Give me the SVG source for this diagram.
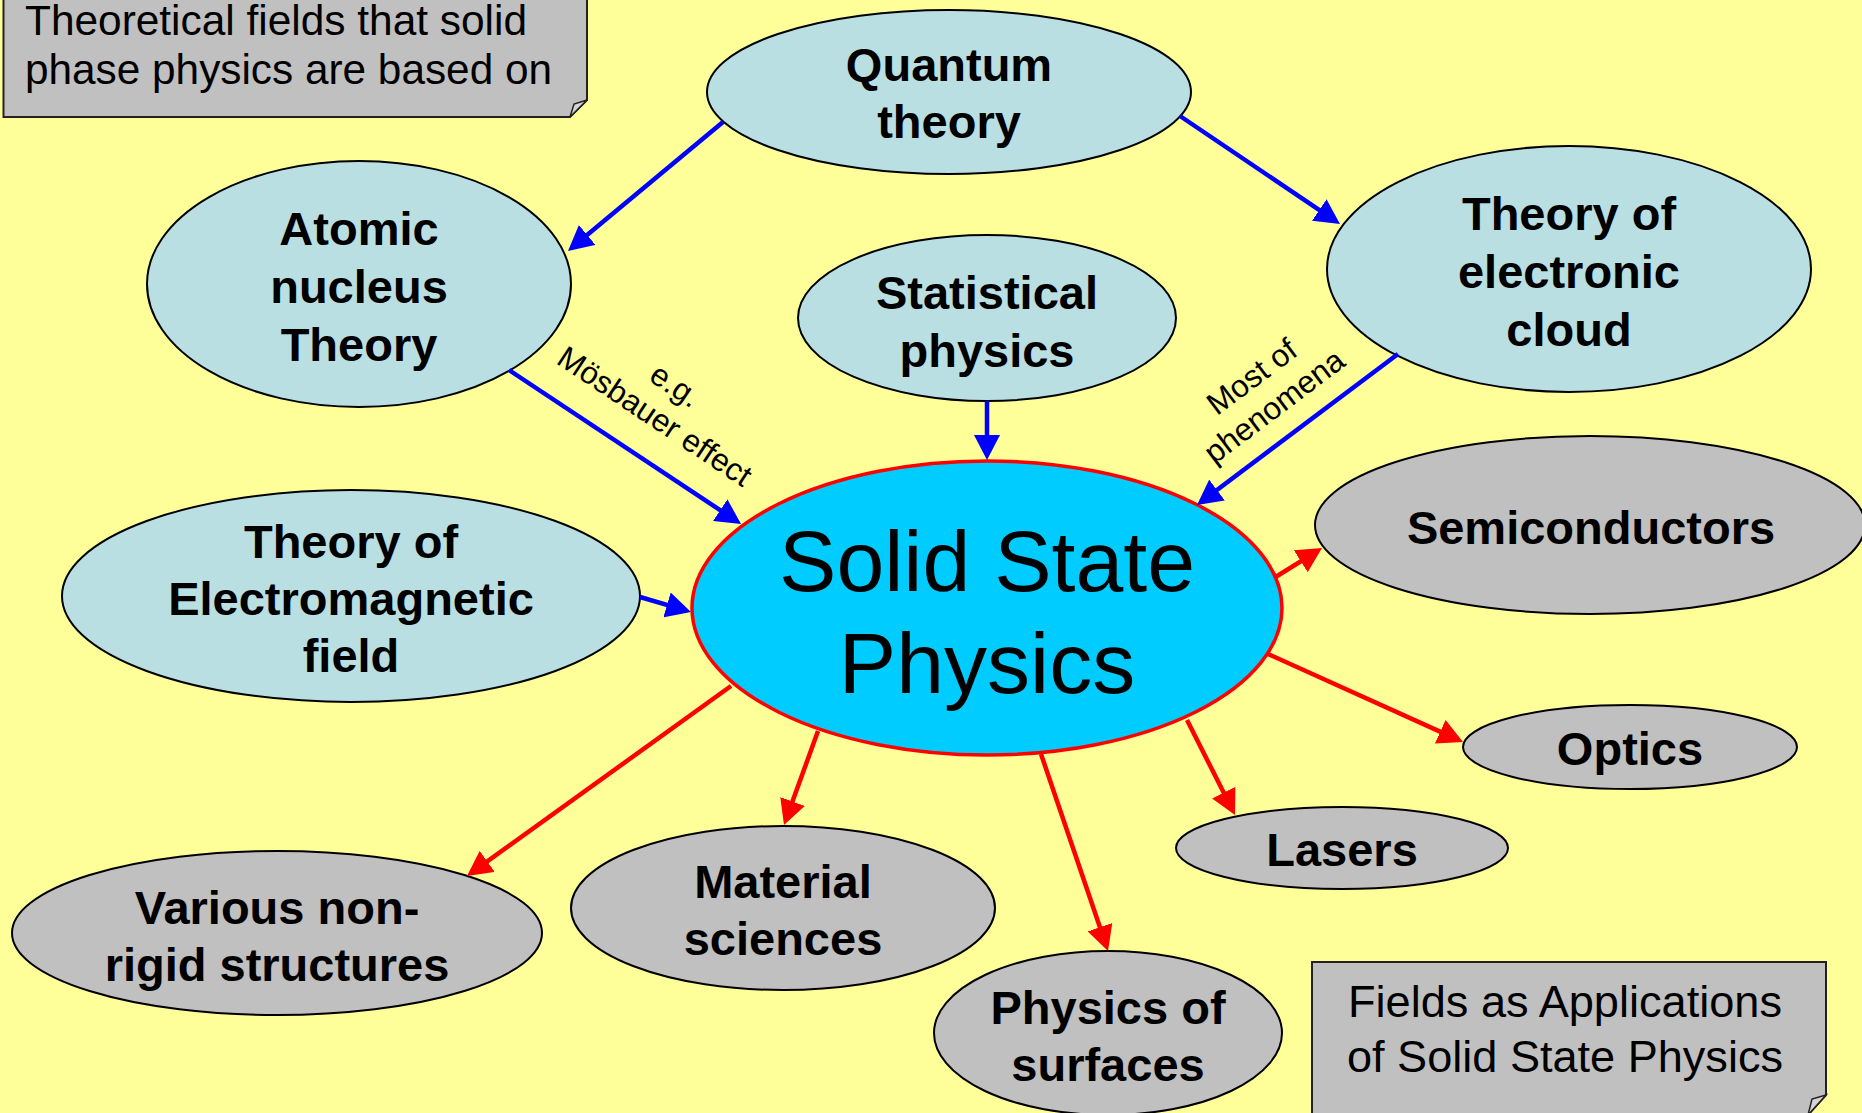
<svg xmlns="http://www.w3.org/2000/svg" width="1862" height="1113" viewBox="0 0 1862 1113">
<defs>
<style>
.bg{fill:#FFFF99}
.th{fill:#B9DFE3;stroke:#000;stroke-width:2}
.ap{fill:#C0C0C0;stroke:#000;stroke-width:2}
.core{fill:#00CCFF;stroke:#FF0000;stroke-width:3.5}
.note{fill:#C0C0C0;stroke:#222;stroke-width:2}
.fold{fill:#D4D4D4;stroke:#222;stroke-width:1.5}
.n{font-family:"Liberation Sans",Arial,sans-serif;font-weight:bold;font-size:47px;text-anchor:middle;fill:#000}
.nt{font-family:"Liberation Sans",Arial,sans-serif;font-size:42px;fill:#000}
.lb{font-family:"Liberation Sans",Arial,sans-serif;font-size:31.5px;text-anchor:middle;fill:#000}
.big{font-family:"Liberation Sans",Arial,sans-serif;font-size:86px;text-anchor:middle;fill:#000}
.b{stroke:#0000FF;stroke-width:4.5;fill:none}
.r{stroke:#FF0000;stroke-width:4.5;fill:none}
</style>
<marker id="ab" markerUnits="userSpaceOnUse" markerWidth="26" markerHeight="26" refX="15" refY="13" orient="auto"><path d="M0,0 L25,13 L0,26 z" fill="#0000FF"/></marker>
<marker id="ar" markerUnits="userSpaceOnUse" markerWidth="26" markerHeight="26" refX="15" refY="13" orient="auto"><path d="M0,0 L25,13 L0,26 z" fill="#FF0000"/></marker>
</defs>
<rect class="bg" x="0" y="0" width="1862" height="1113"/>

<g id="note-theory">
<path class="note" d="M3.5,-3 H587 V100 L570,117 H3.5 Z"/>
<path class="fold" d="M587,100 L570,117 L574,104 Z"/>
<text class="nt" x="25" y="35" textLength="502" lengthAdjust="spacingAndGlyphs">Theoretical fields that solid</text>
<text class="nt" x="25" y="84" textLength="527" lengthAdjust="spacingAndGlyphs">phase physics are based on</text>
</g>

<g id="note-applications">
<path class="note" d="M1312,962 H1826 V1095 L1808,1115 H1312 Z"/>
<path class="fold" d="M1826,1095 L1808,1115 L1812,1099 Z"/>
<text class="nt" x="1348" y="1017" style="font-size:45px" textLength="434" lengthAdjust="spacingAndGlyphs">Fields as Applications</text>
<text class="nt" x="1347" y="1072" style="font-size:45px" textLength="436" lengthAdjust="spacingAndGlyphs">of Solid State Physics</text>
</g>

<g id="quantum">
<ellipse class="th" cx="949" cy="92" rx="242" ry="82"/>
<text class="n" x="949" y="81">Quantum</text>
<text class="n" x="949" y="138">theory</text>
</g>

<g id="atomic">
<ellipse class="th" cx="359" cy="284" rx="212" ry="123"/>
<text class="n" x="359" y="245">Atomic</text>
<text class="n" x="359" y="303">nucleus</text>
<text class="n" x="359" y="361">Theory</text>
</g>

<g id="statistical">
<ellipse class="th" cx="987" cy="318" rx="189" ry="83"/>
<text class="n" x="987" y="309">Statistical</text>
<text class="n" x="987" y="367">physics</text>
</g>

<g id="electronic">
<ellipse class="th" cx="1569" cy="269" rx="242" ry="123"/>
<text class="n" x="1569" y="230">Theory of</text>
<text class="n" x="1569" y="288">electronic</text>
<text class="n" x="1569" y="346">cloud</text>
</g>

<g id="electromagnetic">
<ellipse class="th" cx="351" cy="596" rx="289" ry="106"/>
<text class="n" x="351" y="558">Theory of</text>
<text class="n" x="351" y="615">Electromagnetic</text>
<text class="n" x="351" y="672">field</text>
</g>

<g id="semiconductors">
<ellipse class="ap" cx="1590" cy="525" rx="275" ry="89"/>
<text class="n" x="1591" y="544">Semiconductors</text>
</g>

<g id="optics">
<ellipse class="ap" cx="1630" cy="747" rx="167" ry="42"/>
<text class="n" x="1630" y="765">Optics</text>
</g>

<g id="lasers">
<ellipse class="ap" cx="1342" cy="848" rx="166" ry="41"/>
<text class="n" x="1342" y="866">Lasers</text>
</g>

<g id="various">
<ellipse class="ap" cx="277" cy="933" rx="265" ry="82"/>
<text class="n" x="277" y="924">Various non-</text>
<text class="n" x="277" y="981">rigid structures</text>
</g>

<g id="material">
<ellipse class="ap" cx="783" cy="908" rx="212" ry="82"/>
<text class="n" x="783" y="898">Material</text>
<text class="n" x="783" y="955">sciences</text>
</g>

<g id="surfaces">
<ellipse class="ap" cx="1108" cy="1033" rx="174" ry="82"/>
<text class="n" x="1108" y="1024">Physics of</text>
<text class="n" x="1108" y="1081">surfaces</text>
</g>

<g id="ssp">
<ellipse class="core" cx="987" cy="608" rx="295" ry="147"/>
<text class="big" x="987" y="591">Solid State</text>
<text class="big" x="987" y="693">Physics</text>
</g>

<g id="connectors">
<line class="b" x1="723" y1="122" x2="575.7" y2="244.6" marker-end="url(#ab)"/>
<line class="b" x1="1180" y1="116" x2="1331.7" y2="218.4" marker-end="url(#ab)"/>
<line class="b" x1="509" y1="370" x2="732.7" y2="518.5" marker-end="url(#ab)"/>
<line class="b" x1="987" y1="401" x2="987" y2="450" marker-end="url(#ab)"/>
<line class="b" x1="1398" y1="354" x2="1205" y2="499" marker-end="url(#ab)"/>
<line class="b" x1="640" y1="597" x2="681.4" y2="609.2" marker-end="url(#ab)"/>
<line class="r" x1="1274" y1="578" x2="1313.5" y2="553.3" marker-end="url(#ar)"/>
<line class="r" x1="1268" y1="654" x2="1453.9" y2="737.9" marker-end="url(#ar)"/>
<line class="r" x1="1187" y1="720" x2="1230.5" y2="806.1" marker-end="url(#ar)"/>
<line class="r" x1="1041" y1="754" x2="1104.8" y2="941.5" marker-end="url(#ar)"/>
<line class="r" x1="818" y1="731" x2="787.4" y2="815.6" marker-end="url(#ar)"/>
<line class="r" x1="731" y1="686" x2="475.1" y2="870.2" marker-end="url(#ar)"/>
<g transform="translate(655,416) rotate(33.6)">
<text class="lb" x="0" y="-26">e.g.</text>
<text class="lb" x="0" y="11">Mösbauer effect</text>
</g>
<g transform="translate(1274,406) rotate(-37)">
<text class="lb" x="0" y="-26">Most of</text>
<text class="lb" x="0" y="11">phenomena</text>
</g>
</g>
</svg>
